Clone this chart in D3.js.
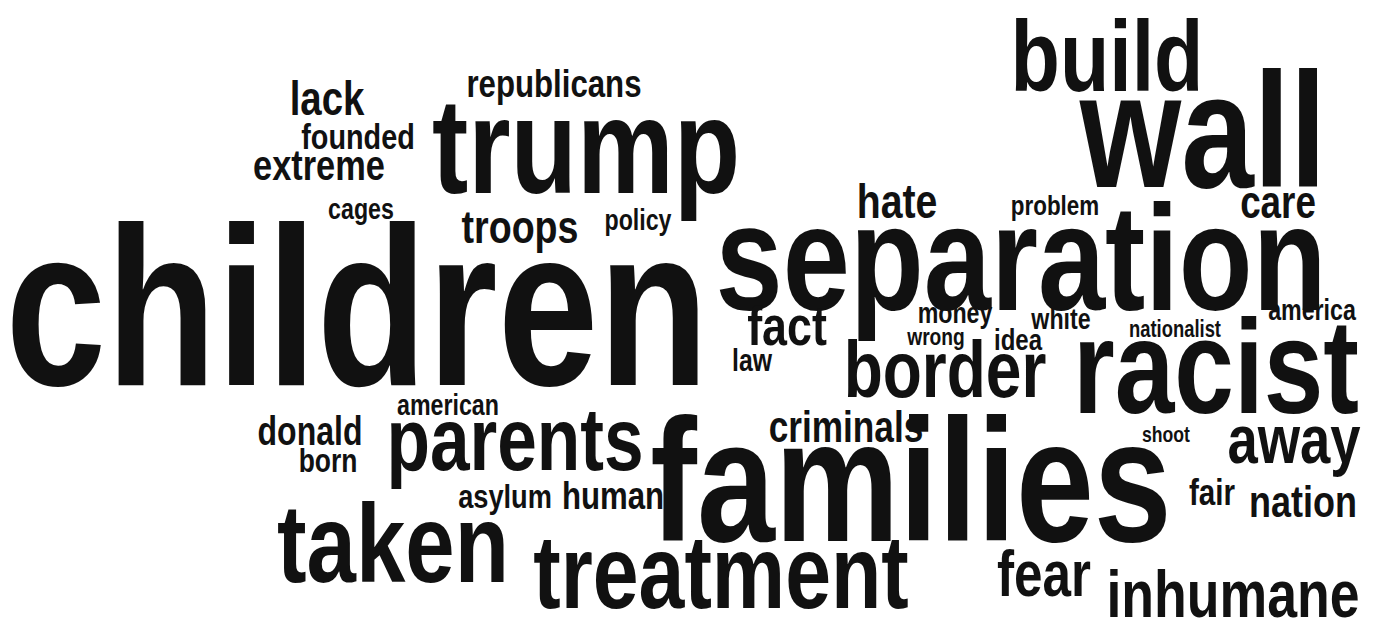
<!DOCTYPE html>
<html>
<head>
<meta charset="utf-8">
<script src="https://cdn.jsdelivr.net/npm/d3@7"></script>
<style>
  html, body { margin: 0; padding: 0; background: #fff; }
  svg { display: block; }
</style>
</head>
<body>
<svg id="chart"></svg>
<script>
// Word list
const words = [
  "children","families","separation","wall","trump","racist","build","border",
  "parents","taken","treatment","inhumane","away","fear","fact","criminals",
  "republicans","lack","founded","extreme","hate","problem","care","cages",
  "troops","policy","money","wrong","idea","white","nationalist","america",
  "law","american","donald","born","shoot","asylum","human","fair","nation"
];
// Relative weights (drive font size)
const weights = [
  226,175,151,163,136,134,101,80,
  89,111,103,67,68,64,56,44,
  39,48,36,43,49,28,46,29,
  47,29,29,24,30,29,23,29,
  31,29,40,33,22,34,39,37,45
];
// Layout positions of each word (centre, baseline) in layout units
const layoutX = [
  357,911,1021,1203,586,1216,1107,945,
  515,393,721,1233,1294,1044,787,846,
  554,327,358,319,897,1055,1278,361,
  520,638,955,936,1018,1061,1175,1312,
  752,448,310,328,1166,505,613,1212,1303
];
const layoutY = [
  385,541,310,187,193,413,91,397,
  470,582,608,617,463,596,345,442,
  97,115,149,180,218,215,218,219,
  243,230,323,345,350,329,337,320,
  371,415,445,472,442,508,509,505,517
];

const W = 1375, H = 630;
const svg = d3.select("#chart").attr("width", W).attr("height", H);

const x = d3.scaleLinear().domain([0, 1375]).range([0, W]);
const y = d3.scaleLinear().domain([0, 630]).range([0, H]);
const size = d3.scaleLinear().domain([0, 226]).range([0, 226]);
const condense = 0.8;

const data = words.map((w, i) => ({ text: w, weight: weights[i], lx: layoutX[i], ly: layoutY[i] }));

svg.append("g")
  .selectAll("text")
  .data(data)
  .join("text")
  .attr("transform", d => `translate(${x(d.lx)},${y(d.ly)}) scale(${condense},1)`)
  .attr("text-anchor", "middle")
  .attr("font-family", "'Liberation Sans Narrow', 'Liberation Sans', Arial, sans-serif")
  .attr("font-weight", "bold")
  .attr("font-size", d => size(d.weight))
  .attr("fill", "#111")
  .text(d => d.text);
</script>
</body>
</html>
